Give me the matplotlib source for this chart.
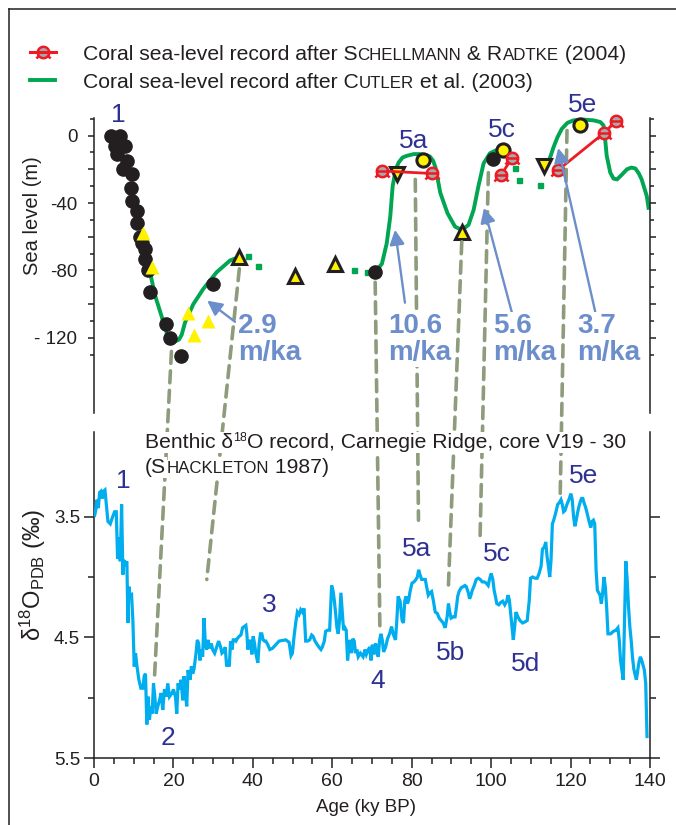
import matplotlib
matplotlib.use("Agg")
import matplotlib.pyplot as plt
import numpy as np
from matplotlib.lines import Line2D
from matplotlib.patches import ConnectionPatch
from matplotlib.path import Path

plt.rcParams['font.family'] = ['Liberation Sans', 'DejaVu Sans']

# ---------------------------------------------------------------- colours
GREEN = '#00a651'
RED = '#ed1c24'
GREY = '#a7a9ac'
YELLOW = '#fff200'
BLACK = '#231f20'
CYAN = '#00aeef'
NAVY = '#2e3192'
RATE = '#6c8ecb'
TIE = '#8c9c7c'

# ---------------------------------------------------------------- sea-level data (age in ky BP, level in m)
# black dots: deglacial / other coral dates
dot_age = [4.4, 6.5, 5.3, 7.8, 5.7, 8.2, 7.4, 9.5, 9.2, 9.5, 10.8, 10.8, 11.6, 12.0,
           12.8, 12.8, 13.7, 14.1, 18.1, 19.1, 21.9, 29.9, 70.8, 100.4]
dot_sl = [0, 0, -6, -6, -11, -15, -20, -23, -31, -39, -45, -52, -60, -64,
          -67, -73, -80, -93, -112, -120, -131, -88, -81, -14]

# plain yellow triangles
ytri_age = [12.3, 14.7, 23.6, 25.3, 28.6]
ytri_sl = [-58, -78, -105, -118, -110]

# outlined yellow triangles (pointing up / down)
up_age = [36.6, 50.6, 60.6, 92.6]
up_sl = [-72, -83.5, -76, -57]
down_age = [76.2, 113.2]
down_sl = [-23, -18]

# outlined yellow circles
ycirc_age = [82.8, 102.9, 122.4]
ycirc_sl = [-14.5, -8.6, 6.2]

# Schellmann & Radtke (2004) terraces, grouped by substage
sr_5a_age = [72.5, 85.1]
sr_5a_sl = [-21, -22.5]
sr_5c_age = [102.5, 105.2]
sr_5c_sl = [-23.4, -13.5]
sr_5e_age = [116.9, 128.3, 131.5]
sr_5e_sl = [-20.4, 1.3, 8.6]

# Cutler et al. (2003) sea-level curve, continuous pieces
cut_a_age = [14.1, 15.4, 17.0, 18.3, 19.4, 20.4, 21.4, 22.1, 22.9, 25.0, 27.5, 30.9, 34.3, 36.6]
cut_a_sl = [-81, -95, -107, -117, -121, -122, -121, -118, -111, -100, -91, -81, -74, -72]
cut_b_age = [70.8, 72.5, 73.7, 74.6, 75.2, 76.0, 76.7, 77.7, 78.8, 80.5, 82.1, 83.6, 84.6, 85.4,
             86.0, 87.2, 89.0, 90.9, 92.6, 94.3, 95.6, 96.8, 98.1, 99.7, 101.4, 103.0]
cut_b_sl = [-81, -76, -64, -48, -30, -20, -16, -13, -12, -11, -11, -11.5, -12.5, -15,
            -19, -34, -46, -54, -56, -53, -44, -30, -16.5, -10.5, -8.6, -7.5]
cut_c_age = [114.0, 115.0, 115.7, 116.7, 117.8, 119.2, 120.7, 123.0, 125.8, 127.5, 128.3, 128.7,
             129.1, 130.0, 130.8, 131.7, 133.0, 134.2, 135.3, 136.3, 137.2, 137.9, 139.2, 139.7]
cut_c_sl = [-18, -12, -7, -1, 4, 7.5, 9, 9.5, 9, 8, 6, -2,
            -12, -22, -25.5, -26, -23, -20, -19, -19.5, -22.5, -26, -36, -44]
# Cutler et al. (2003) curve, dotted (poorly constrained) stretches
cut_dot_age = [38.9, 41.4, 65.5, 68.7, 106.0, 106.9, 112.3]
cut_dot_sl = [-71.7, -77.6, -79.6, -81.2, -19.4, -26.3, -29.3]

# uplift-corrected rise rates (m/ka) and their arrows
rate_txt = ['2.9', '10.6', '5.6', '3.7']
rate_age = [36.3, 74.1, 100.5, 121.7]
rate_from_age = [35.5, 78.3, 105.5, 126.2]
rate_from_sl = [-110.4, -99.1, -107.4, -104.4]
rate_to_age = [28.5, 75.8, 98.2, 116.9]
rate_to_sl = [-97.9, -55.9, -42.9, -7.4]

# MIS labels on the sea-level panel
mis_top_txt = ['1', '5a', '5c', '5e']
mis_top_age = [6.05, 80.4, 102.8, 123.0]
mis_top_sl = [8.1, -7.3, -0.8, 14.0]

# ---------------------------------------------------------------- benthic d18O, core V19-30
d18o_age = [0.17, 0.42, 0.75, 1.09, 1.42, 1.76, 2.09, 2.43, 2.76, 3.10, 3.51, 4.10, 4.60, 5.19,
            5.61, 5.94, 6.28, 6.61, 6.95, 7.28, 7.45, 7.95, 8.28, 8.54, 8.79, 9.12, 9.46, 9.79,
            10.13, 10.46, 10.79, 11.30, 11.80, 12.30, 12.64, 12.97, 13.30, 13.64, 13.97, 14.31,
            14.64, 14.98, 15.31, 15.65, 16.07, 16.49, 16.90, 17.32, 17.74, 18.16, 18.58, 19.00,
            19.66, 20.00, 20.50, 20.84, 21.17, 21.51, 21.92, 22.34, 22.68, 23.01, 23.35, 23.68,
            24.18, 24.52, 24.85, 25.19, 25.69, 26.02, 26.36, 26.69, 27.03, 27.36, 27.70, 28.03,
            28.37, 28.70, 29.04, 29.54, 29.87, 30.38, 30.88, 31.38, 31.88, 32.22, 32.55, 33.05,
            33.39, 33.72, 34.06, 34.39, 34.73, 35.06, 35.40, 35.73, 36.07, 36.57, 36.99, 37.41,
            37.82, 38.24, 38.49, 38.74, 39.08, 39.41, 39.75, 40.08, 40.42, 40.75, 41.25, 41.59,
            41.92, 42.26, 42.59, 42.93, 43.26, 43.76, 44.27, 44.94, 45.77, 46.61, 48.28, 49.12,
            49.62, 49.96, 50.38, 50.79, 51.21, 51.63, 52.05, 52.47, 52.89, 53.30, 53.81, 54.31,
            54.81, 55.15, 55.65, 56.23, 56.65, 57.15, 57.49, 57.99, 58.32, 58.83, 59.33, 59.83,
            60.17, 60.50, 60.84, 61.17, 61.50, 61.84, 62.17, 62.51, 62.84, 63.18, 63.51, 63.85,
            64.19, 64.52, 64.85, 65.19, 65.52, 65.86, 66.19, 66.53,
            67.08, 67.75, 68.25, 68.58, 69.08, 69.42, 69.75, 70.08, 70.42, 70.92, 71.25, 71.58,
            71.92, 72.25, 72.58, 72.92, 73.42, 73.92, 74.42, 74.92, 75.42, 75.92, 76.25, 76.58,
            77.08, 77.58, 77.92, 78.25, 78.58, 78.92, 79.25, 79.58, 80.08, 80.58, 81.08, 81.42,
            81.75, 82.08, 82.50, 82.92, 83.42, 83.75, 84.17, 84.58, 85.00, 85.42, 85.92, 86.42,
            86.92, 87.42, 87.92, 88.42, 88.92, 89.25, 89.58, 89.92, 90.42, 90.92, 91.25, 91.58,
            91.92, 92.42, 92.92, 93.42, 93.75, 94.25, 94.58, 94.92, 95.25, 95.75, 96.25, 96.75,
            97.25, 97.75, 98.25, 98.75, 99.25, 99.58, 100.00, 100.42, 100.75, 101.08, 101.42,
            101.92, 102.42, 102.92, 103.42, 103.92, 104.25, 104.58, 104.92, 105.25, 105.58,
            105.92, 106.25, 106.75, 107.25, 107.92, 108.58, 109.08, 109.58, 109.92, 110.42,
            111.08, 111.58, 112.08, 112.58, 112.92, 113.42, 113.75, 114.08, 114.42, 114.75,
            115.08, 115.42, 115.75, 116.25, 116.75, 117.25, 117.58, 117.92, 118.25, 118.58,
            119.08, 119.58, 120.08, 120.42, 120.75, 121.08, 121.42, 121.75, 122.08, 122.42,
            122.75, 123.08, 123.42, 123.75, 124.08, 124.58, 125.08, 125.42, 125.75, 126.08,
            126.42, 126.75, 127.08, 127.42, 127.75, 128.08, 128.42, 128.75, 129.08, 129.42,
            130.08, 130.75, 131.42, 131.92, 132.25, 132.58, 132.92, 133.25, 133.58, 133.92,
            134.25, 134.58, 134.92, 135.25, 135.58, 135.92, 136.25, 136.58, 136.92, 137.25,
            137.58, 137.92, 138.25, 138.58, 138.92, 139.25]
d18o_val = [3.49, 3.45, 3.36, 3.43, 3.30, 3.29, 3.35, 3.29, 3.28, 3.40, 3.54, 3.56, 3.51, 3.46,
            3.46, 3.85, 3.67, 3.87, 3.40, 3.98, 3.86, 3.89, 3.87, 4.38, 4.08, 4.16, 4.15, 4.36,
            4.74, 4.63, 4.73, 4.85, 4.92, 4.92, 4.82, 4.80, 5.22, 4.99, 5.18, 5.07,
            5.13, 4.88, 4.99, 5.13, 5.07, 5.02, 4.96, 5.10, 4.93, 4.99, 4.88, 4.99,
            4.96, 4.93, 4.99, 5.13, 4.88, 4.93, 4.85, 5.02, 4.82, 4.96, 5.07, 4.77,
            4.85, 4.74, 4.80, 4.76, 4.63, 4.52, 4.55, 4.69, 4.60, 4.66, 4.34, 4.55,
            4.60, 4.52, 4.59, 4.55, 4.60, 4.63, 4.58, 4.53, 4.58, 4.63, 4.62, 4.58,
            4.74, 4.69, 4.74, 4.53, 4.60, 4.52, 4.52, 4.53, 4.51, 4.49, 4.48, 4.42,
            4.41, 4.40, 4.47, 4.60, 4.55, 4.52, 4.64, 4.49, 4.55, 4.63, 4.71, 4.55,
            4.47, 4.47, 4.52, 4.53, 4.53, 4.56, 4.60, 4.59, 4.56, 4.53, 4.52, 4.54,
            4.65, 4.63, 4.49, 4.38, 4.29, 4.31, 4.27, 4.29, 4.26, 4.53, 4.53, 4.52,
            4.48, 4.49, 4.53, 4.56, 4.58, 4.60, 4.58, 4.53, 4.45, 4.44, 4.44, 4.07,
            4.11, 4.19, 4.30, 4.42, 4.47, 4.35, 4.13, 4.29, 4.44, 4.42, 4.44, 4.69,
            4.58, 4.52, 4.63, 4.51, 4.53, 4.63, 4.60, 4.66,
            4.63, 4.66, 4.60, 4.64, 4.60, 4.58, 4.69, 4.56, 4.64, 4.55, 4.63, 4.66,
            4.52, 4.47, 4.52, 4.62, 4.58, 4.51, 4.47, 4.41, 4.48, 4.52, 4.36, 4.16,
            4.20, 4.36, 4.38, 4.20, 4.16, 4.22, 4.19, 4.12, 4.05, 4.04, 4.02, 4.00,
            3.94, 3.98, 4.02, 4.02, 4.02, 4.08, 4.15, 4.13, 4.12, 4.19, 4.29, 4.30,
            4.34, 4.36, 4.38, 4.42, 4.33, 4.22, 4.29, 4.34, 4.33, 4.33, 4.25, 4.16,
            4.12, 4.09, 4.08, 4.07, 4.08, 4.13, 4.18, 4.15, 4.11, 4.07, 4.02, 4.01,
            4.02, 4.04, 4.04, 4.05, 4.07, 4.02, 3.97, 4.02, 4.11, 4.16, 4.22,
            4.23, 4.21, 4.20, 4.23, 4.20, 4.15, 4.19, 4.30, 4.41, 4.52,
            4.41, 4.29, 4.33, 4.36, 4.38, 4.37, 4.36, 4.20, 4.01, 4.00,
            4.01, 4.01, 3.97, 3.91, 3.77, 3.75, 3.71, 3.83, 3.91, 4.00,
            3.86, 3.56, 3.53, 3.47, 3.40, 3.38, 3.36, 3.40, 3.46, 3.45,
            3.40, 3.36, 3.31, 3.36, 3.50, 3.58, 3.53, 3.47, 3.42, 3.38,
            3.35, 3.35, 3.39, 3.42, 3.46, 3.53, 3.59, 3.54, 3.53, 3.56,
            3.94, 4.11, 4.13, 4.15, 4.22, 4.13, 4.00, 4.08, 4.25, 4.47,
            4.47, 4.45, 4.44, 4.42, 4.52, 4.69, 4.77, 4.85, 4.36, 3.87,
            4.02, 4.24, 4.41, 4.52, 4.66, 4.76, 4.81, 4.85, 4.77, 4.70,
            4.66, 4.69, 4.73, 4.77, 4.88, 5.32]

# MIS labels on the isotope panel (baseline positions)
mis_bot_txt = ['1', '2', '3', '4', '5a', '5b', '5c', '5d', '5e']
mis_bot_age = [7.4, 18.7, 44.1, 71.4, 81.3, 89.9, 101.4, 108.6, 123.2]
mis_bot_val = [3.26, 5.39, 4.29, 4.92, 3.83, 4.69, 3.87, 4.78, 3.22]

# correlation ties: sea-level panel point -> isotope panel point
tie_top_age = [19.5, 36.6, 70.8, 80.9, 92.6, 99.3, 119.1]
tie_top_sl = [-128, -79, -87, -26, -63, -22, 3]
tie_bot_age = [15.2, 28.4, 72.0, 81.7, 89.2, 97.2, 117.4]
tie_bot_val = [4.85, 4.02, 4.46, 3.53, 4.11, 3.69, 3.31]

# ---------------------------------------------------------------- figure and panels
W, H = 676, 825
fig = plt.figure(figsize=(W / 100, H / 100), dpi=100)


def fx(px):
    return px / W


def fy(py):
    return 1 - py / H


ax1 = fig.add_axes([fx(94), fy(413), fx(650) - fx(94), fy(118) - fy(413)])
ax2 = fig.add_axes([fx(94), fy(758.3), fx(650) - fx(94), fy(432) - fy(758.3)])
for ax in (ax1, ax2):
    ax.patch.set_visible(False)
    for s in ax.spines.values():
        s.set_color(BLACK)
        s.set_linewidth(1.1)
    ax.spines['top'].set_visible(False)
    ax.set_xlim(0, 140)

# sea-level panel axes
ax1.spines['bottom'].set_visible(False)
ax1.set_ylim(-164.5, 10.4)
ax1.tick_params(axis='x', bottom=False, labelbottom=False)
ax1.set_yticks([-120, -100, -80, -60, -40, -20, 0])
ax1.set_yticklabels(['- 120', '', '-80', '', '-40', '', '0'])
ax1.set_yticks(np.arange(-130, 11, 20), minor=True)
ax1.tick_params(axis='y', which='both', left=True, right=True, direction='out',
                color=BLACK, width=1.1, labelcolor=BLACK)
ax1.tick_params(axis='y', which='major', length=4.5, labelsize=13.5, pad=7.5)
ax1.tick_params(axis='y', which='minor', length=3)

# isotope panel axes
ax2.set_ylim(5.5, 2.8)
ax2.set_xticks(np.arange(0, 141, 20))
ax2.set_xticks(np.arange(0, 141, 5), minor=True)
ax2.set_yticks([3.5, 4.5, 5.5])
ax2.set_yticklabels(['3.5', '4.5', '5.5'])
ax2.set_yticks([4.0, 5.0], minor=True)
ax2.tick_params(which='both', direction='out', color=BLACK, width=1.1, labelcolor=BLACK,
                left=True, right=True, bottom=True)
ax2.tick_params(axis='x', which='major', length=7, labelsize=14, pad=3.5)
ax2.tick_params(axis='x', which='minor', length=4.3)
ax2.tick_params(axis='y', which='major', length=7, labelsize=13.5, pad=3)
ax2.tick_params(axis='y', which='minor', length=4.3)

# ---------------------------------------------------------------- sea-level panel content
kw = dict(clip_on=False)
for a, s in ((cut_a_age, cut_a_sl), (cut_b_age, cut_b_sl), (cut_c_age, cut_c_sl)):
    ax1.plot(a, s, color=GREEN, lw=2.8, solid_capstyle='butt', zorder=2, **kw)
ax1.plot(cut_dot_age, cut_dot_sl, ls='none', marker='s', ms=3.6, mfc=GREEN, mec=GREEN,
         zorder=2, **kw)

ax1.plot(dot_age, dot_sl, ls='none', marker='o', ms=9.5, mfc=BLACK, mec=BLACK, zorder=4, **kw)
ax1.plot(ytri_age, ytri_sl, ls='none', marker='^', ms=9.5, mfc=YELLOW, mec='none', zorder=4, **kw)
ax1.plot(up_age, up_sl, ls='none', marker='^', ms=10, mfc=YELLOW, mec=BLACK, mew=2.2, zorder=4, **kw)
ax1.plot(down_age, down_sl, ls='none', marker='v', ms=10, mfc=YELLOW, mec=BLACK, mew=2.2, zorder=4, **kw)
ax1.plot(ycirc_age, ycirc_sl, ls='none', marker='o', ms=9.5, mfc=YELLOW, mec=BLACK, mew=2.2, zorder=5, **kw)

# coral terrace symbol: circle with a bar and two short flared feet
t = np.linspace(0, 2 * np.pi, 40)
verts = list(zip(np.cos(t), np.sin(t)))
codes = [Path.MOVETO] + [Path.LINETO] * (len(verts) - 1)
verts += [(-1.0, 0.0), (1.0, 0.0), (-0.8, -0.6), (-1.25, -1.05), (0.8, -0.6), (1.25, -1.05)]
codes += [Path.MOVETO, Path.LINETO] * 3
coral_mark = Path(verts, codes)


def coral(axis, x, y, ms=8.2, **k):
    axis.plot(x, y, ls='none', marker='o', ms=ms, mfc=GREY, mec='none', **k)
    axis.plot(x, y, ls='none', marker=coral_mark, ms=ms * 1.25, mfc='none', mec=RED, mew=1.8, **k)


for a, s in ((sr_5a_age, sr_5a_sl), (sr_5c_age, sr_5c_sl), (sr_5e_age, sr_5e_sl)):
    ax1.plot(a, s, color=RED, lw=2.0, zorder=6, **kw)
    coral(ax1, a, s, zorder=7, **kw)

for txt, a, s in zip(mis_top_txt, mis_top_age, mis_top_sl):
    ax1.text(a, s, txt, color=NAVY, fontsize=19, ha='center', va='baseline', clip_on=False)

# ---------------------------------------------------------------- isotope panel content
ax2.plot(d18o_age, d18o_val, color=CYAN, lw=2.3, zorder=3, solid_joinstyle='miter')
for txt, a, v in zip(mis_bot_txt, mis_bot_age, mis_bot_val):
    ax2.text(a, v, txt, color=NAVY, fontsize=19, ha='center', va='baseline')

# ---------------------------------------------------------------- correlation ties between panels
for a1, s1, a2, v2 in zip(tie_top_age, tie_top_sl, tie_bot_age, tie_bot_val):
    con = ConnectionPatch(xyA=(a1, s1), coordsA=ax1.transData, xyB=(a2, v2), coordsB=ax2.transData,
                          color=TIE, lw=2.6, linestyle=(0, (3.3, 2.1)), zorder=1.5)
    fig.add_artist(con)

# rise rates with arrows
for txt, a, fa, fs, ta, ts in zip(rate_txt, rate_age, rate_from_age, rate_from_sl,
                                  rate_to_age, rate_to_sl):
    fig.add_artist(ConnectionPatch(xyA=(fa, fs), coordsA=ax1.transData, xyB=(ta, ts),
                                   coordsB=ax1.transData, arrowstyle='-|>,head_length=0.55,head_width=0.28',
                                   mutation_scale=16, color=RATE, lw=1.7, shrinkA=0, shrinkB=0, zorder=3))
    for line, base in ((txt, -116.9), ('m/ka', -132.9)):
        fig.text(a, base, line, transform=ax1.transData, color=RATE, fontsize=20,
                 fontweight='bold', ha='left', va='baseline', zorder=4,
                 bbox=dict(fc='white', ec='none', pad=0.5))

# ---------------------------------------------------------------- mixed-size text helper
def rich_text(x_px, base_px, pieces, size, color=BLACK, **k):
    r = fig.canvas.get_renderer()
    cur = x_px
    for s, scale, rise in pieces:
        tx = fig.text(fx(cur), fy(base_px - rise), s, fontsize=size * scale, color=color,
                      ha='left', va='baseline', zorder=4, **k)
        cur += tx.get_window_extent(r).width
    return cur


SC = 0.8
# panel title for the isotope record
box = dict(fc='white', ec='none', pad=0.6)
rich_text(145, 448, [('Benthic δ', 1, 0), ('18', 0.6, 7), ('O record, Carnegie Ridge, core V19 - 30', 1, 0)],
          15.2, bbox=box)
rich_text(145, 473, [('(S', 1, 0), ('HACKLETON', SC, 0), (' 1987)', 1, 0)], 15.2, bbox=box)

# key
rich_text(83, 59.5, [('Coral sea-level record after S', 1, 0), ('CHELLMANN', SC, 0), (' & R', 1, 0),
                     ('ADTKE', SC, 0), (' (2004)', 1, 0)], 15.2)
rich_text(83, 87.5, [('Coral sea-level record after C', 1, 0), ('UTLER', SC, 0),
                     (' et al. (2003)', 1, 0)], 15.2)
fig.add_artist(Line2D([fx(30), fx(56)], [fy(52), fy(52)], color=RED, lw=2.2))
kx = fig.add_axes([0, 0, 1, 1], zorder=-1)
kx.set_axis_off()
kx.set_xlim(0, W)
kx.set_ylim(H, 0)
coral(kx, [43], [52], zorder=5)
fig.add_artist(Line2D([fx(30), fx(55)], [fy(80), fy(80)], color=GREEN, lw=2.8))

# axis titles
fig.text(fx(33), fy(216), 'Sea level (m)', rotation=90, ha='center', va='center',
         fontsize=14.5, color=BLACK)
fig.text(fx(33), fy(575), r'$\mathregular{δ^{18}O_{PDB}}$ (‰)', rotation=90, ha='center',
         va='center', fontsize=17, color=BLACK)
fig.text(fx(366), fy(808), 'Age (ky BP)', ha='center', va='center', fontsize=13.5, color=BLACK)

# outer frame
fig.add_artist(Line2D([fx(9), fx(9)], [fy(9), 0], color=BLACK, lw=1.1))
fig.add_artist(Line2D([fx(9), 1], [fy(9), fy(9)], color=BLACK, lw=1.1))

fig.savefig('out.png', dpi=100, facecolor='white')
